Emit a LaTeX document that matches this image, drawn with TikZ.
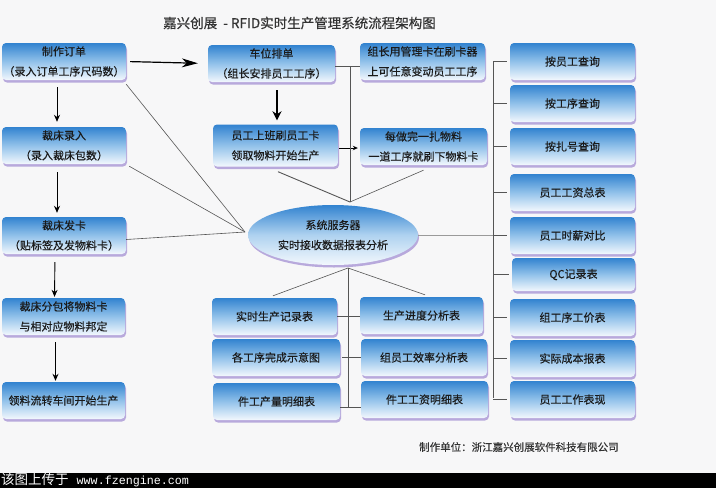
\documentclass[tikz,border=0pt]{standalone}
\usepackage{fontspec}
\setmainfont{Noto Sans CJK SC}
\newfontfamily\boxfont[FakeBold=0.35]{Noto Sans CJK SC}
\newfontfamily\wmmono{Liberation Mono}
\usetikzlibrary{shapes.geometric,arrows.meta,shadows}
\definecolor{bg}{HTML}{F7F7F8}
\definecolor{btop}{HTML}{3283D0}
\definecolor{bmid}{HTML}{92C2EA}
\definecolor{bbot}{HTML}{F3F8FD}
\definecolor{bshadow}{HTML}{B8A9DC}
\definecolor{txt}{HTML}{1A1A1A}
\definecolor{linkc}{HTML}{555555}
\definecolor{linkl}{HTML}{9A9A9A}
\tikzset{
  box/.style={rectangle, rounded corners=4pt, top color=btop, bottom color=bbot, middle color=bmid,
    draw=none, general shadow={fill=bshadow, shadow xshift=1pt, shadow yshift=-2.5pt},
    minimum height=37pt, inner sep=1pt, text=txt, align=center,
    font=\boxfont\fontsize{11}{20}\selectfont},
  srvshape/.style={ellipse, top color=btop, bottom color=bbot, middle color=bmid!70!bbot,
    draw=none, general shadow={fill=bshadow, shadow xshift=1pt, shadow yshift=-2.5pt},
    minimum width=170pt, minimum height=60pt, inner sep=0pt, text=txt, align=center,
    font=\boxfont\fontsize{11}{20}\selectfont},
  arr/.style={-{Stealth[length=7pt,width=6pt]}, line width=0.9pt, black},
  arrbig/.style={-{Stealth[length=16pt,width=9pt,inset=5pt]}, line width=1.2pt, black},
  arrthick/.style={-{Stealth[length=9pt,width=9pt]}, line width=2pt, black},
  arrsmall/.style={-{Stealth[length=5pt,width=4.5pt]}, line width=0.8pt, black},
  link/.style={draw=linkc, line width=0.6pt},
  linklight/.style={draw=linkl, line width=0.6pt},
}
\begin{document}
\begin{tikzpicture}[x=1pt,y=-1pt]
\useasboundingbox (0,0) rectangle (716,488);
\fill[bg] (0,0) rectangle (716,473);
\fill[black] (0,473) rectangle (716,488);

% title
\node[anchor=west, text=black!80, font=\boxfont\fontsize{13.5}{14}\selectfont, inner sep=0pt] (title) at (163,23)
  {嘉兴创展\ \ - RFID实时生产管理系统流程架构图};

% left column
\node[box, minimum width=124pt] (o1) at (64,61.5) {制作订单\\（录入订单工序尺码数）};
\node[box, minimum width=124pt] (o2) at (64,145.5) {裁床录入\\（录入裁床包数）};
\node[box, minimum width=124pt] (o3) at (64,235.5) {裁床发卡\\（贴标签及发物料卡）};
\node[box, minimum width=123pt] (o4) at (63.5,316.5) {裁床分包将物料卡\\与相对应物料邦定};
\node[box, minimum width=123pt] (o5) at (63.5,400.5) {领料流转车间开始生产};

% middle top
\node[box, minimum width=127pt] (a1) at (271.5,63.5) {车位排单\\（组长安排员工工序）};
\node[box, minimum width=125pt, align=left] (a2) at (422.5,61.5) {组长用管理卡在刷卡器\\上可任意变动员工工序};
\node[box, minimum width=125pt] (a3) at (275.5,145.5) {\begin{tabular}{@{}l@{}}员工上班刷员工卡\\[0pt]领取物料开始生产\end{tabular}};
\node[box, minimum width=127pt] (a4) at (423.5,146.5) {每做完一扎物料\\一道工序就刷下物料卡};

% server
\node[srvshape] (srv) at (333,235) {系统服务器\\实时接收数据报表分析};

% bottom middle
\node[box, minimum width=125pt] (b1) at (274.5,316.5) {实时生产记录表};
\node[box, minimum width=128pt] (b2) at (276,357.5) {各工序完成示意图};
\node[box, minimum width=127pt] (b3) at (276.5,401.5) {件工产量明细表};
\node[box, minimum width=123pt] (c1) at (421.5,315.5) {生产进度分析表};
\node[box, minimum width=126pt] (c2) at (424,357.5) {组员工效率分析表};
\node[box, minimum width=127pt] (c3) at (424.5,399.5) {件工工资明细表};

% right column
\node[box, minimum width=125pt] (r1) at (572.5,61.5) {按员工查询};
\node[box, minimum width=125pt] (r2) at (572.5,103.5) {按工序查询};
\node[box, minimum width=125pt] (r3) at (572.5,146.5) {按扎号查询};
\node[box, minimum width=125pt] (r4) at (572.5,192.5) {员工工资总表};
\node[box, minimum width=125pt] (r5) at (572.5,235.5) {员工时薪对比};
\node[box, minimum width=123pt, minimum height=33pt] (r6) at (573.5,274.5) {QC记录表};
\node[box, minimum width=125pt] (r7) at (572.5,317.5) {组工序工价表};
\node[box, minimum width=125pt] (r8) at (572.5,358.5) {实际成本报表};
\node[box, minimum width=125pt] (r9) at (572.5,399.5) {员工工作表现};

% junctions
\coordinate (eL) at (245,232);
\coordinate (jT) at (350,202);
\coordinate (jB) at (348,268);
\coordinate (jBb) at (348,407);
\coordinate (rtop) at (493,62);
\coordinate (rbot) at (493,398);
\coordinate (a1e) at ([yshift=-2.5pt]a1.east);

% left arrows
\draw[arrbig, shorten <=4pt, shorten >=10pt] (o1.east) -- (a1.west);
\draw[arr, shorten <=7pt, shorten >=5pt] ([xshift=-7pt]o1.south) -- ([xshift=-7pt]o2.north);
\draw[arr, shorten <=8pt, shorten >=4pt] ([xshift=-7pt]o2.south) -- ([xshift=-7pt]o3.north);
\draw[arr, shorten <=8pt, shorten >=1pt] ([xshift=-9pt]o3.south) -- ([xshift=-9pt]o4.north);
\draw[arr, shorten <=7pt, shorten >=1pt] ([xshift=-8pt]o4.south) -- ([xshift=-8pt]o5.north);

% middle arrows
\draw[arrthick, shorten <=8pt, shorten >=4pt] ([xshift=5.5pt]a1.south) -- ([xshift=5.5pt]a1.south |- a3.north);
\draw[arrsmall, shorten <=1pt, shorten >=2pt] ([yshift=-2.5pt]a3.east) -- ([yshift=-2.5pt]a3.east -| a4.west);

% links to server
\draw[link] ([yshift=-4pt]o1.south east) -- (eL);
\draw[link] ([xshift=3pt,yshift=-2pt]o2.south east) -- (eL);
\draw[link] ([yshift=-4pt]o3.east) -- (eL);
\draw[link] (a1e) -- (a1e -| a2.west);
\draw[link] (jT) -- (jT |- a1e);
\draw[link, line width=0.9pt] ([xshift=2.5pt,yshift=-5pt]a3.south) -- (jT);
\draw[link] ([yshift=-5pt]a4.south) -- (jT);

% right bracket
\draw[linklight] (srv.east) -- (srv.east -| rtop);
\draw[linkc, line width=0.7pt] (rtop) -- (rbot);
\foreach \r in {r1,r2,r3,r4,r5,r6,r7,r8,r9}{
  \draw[linkc, line width=0.7pt] (\r.west -| rtop) -- ([xshift=-3pt]\r.west);
}

% bottom links
\draw[link] (jB) -- ([xshift=-1.5pt,yshift=2pt]b1.north);
\draw[link] (jB) -- ([xshift=3.5pt,yshift=2pt]c1.north);
\draw[link] (jB) -- (jBb);
\draw[link] (b1.east) -- (b1.east -| c1.west);
\draw[link] ([xshift=2pt]b2.east) -- (b2.east -| c2.west);
\draw[link] ([yshift=-5.5pt]b3.east) -- ([yshift=-5.5pt]b3.east -| c3.west);

% footer
\node[anchor=west, text=black!80, font=\boxfont\fontsize{10.5}{11}\selectfont, inner sep=0pt] (footer) at (419,447)
  {制作单位：浙江嘉兴创展软件科技有限公司};
\node[anchor=west, text=white, inner sep=0pt] (wm) at (1,480.5)
  {\fontsize{13.5}{14}\selectfont 该图上传于\hspace{8pt}{\wmmono\fontsize{11.7}{12}\selectfont www.fzengine.com}};
\end{tikzpicture}
\end{document}
